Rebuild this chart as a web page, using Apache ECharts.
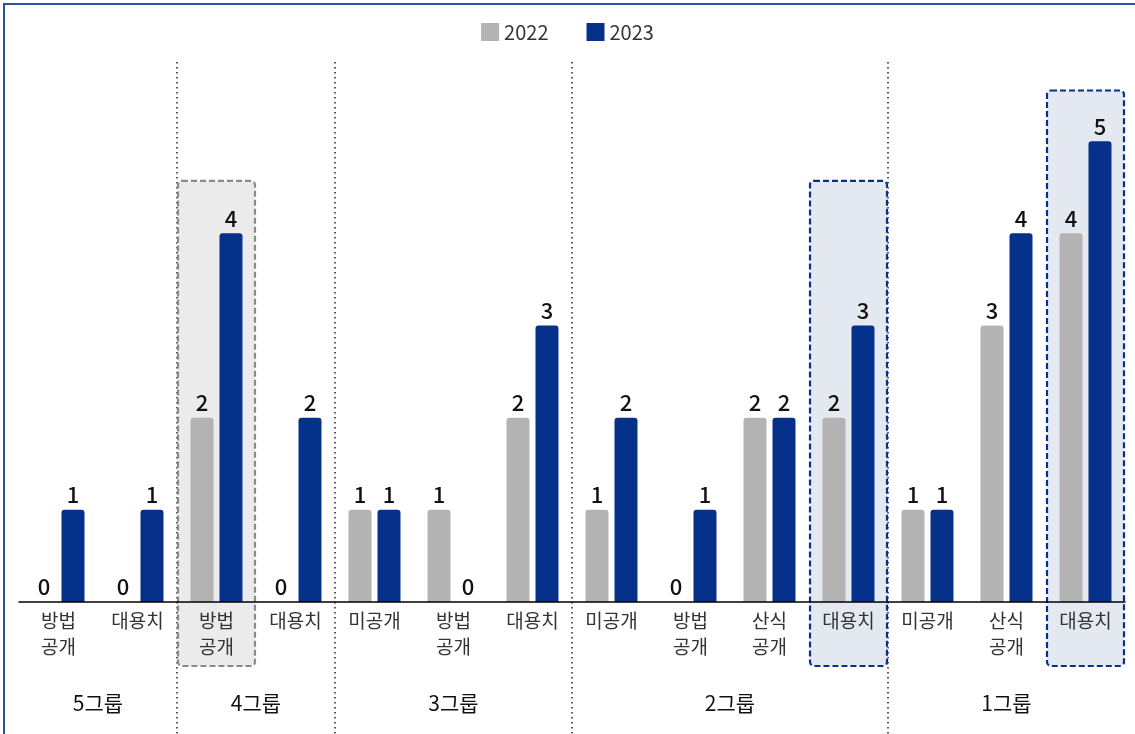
<!DOCTYPE html>
<html>
<head>
<meta charset="utf-8">
<script src="https://cdn.jsdelivr.net/npm/echarts@6/dist/echarts.min.js"></script>
<style>
html,body{margin:0;padding:0;background:#fff;}
#c{width:1135px;height:734px;}
</style>
</head>
<body>
<div id="c"></div>
<script>
const categories = ['방법\n공개','대용치','방법\n공개','대용치','미공개','방법\n공개','대용치','미공개','방법\n공개','산식\n공개','대용치','미공개','산식\n공개','대용치'];
const values2022 = [0,0,2,0,1,1,2,1,0,2,2,1,3,4];
const values2023 = [1,1,4,2,1,0,3,2,1,2,3,1,4,5];
const groupNames = ['5그룹','4그룹','3그룹','2그룹','1그룹'];
const groupSizes = [2,2,3,4,3];
const grayBox = [2];
const blueBoxes = [10,13];

const FONT = '"Noto Sans CJK KR","Noto Sans",sans-serif';
const GRAY = '#b3b3b3';
const NAVY = '#06318a';

const chart = echarts.init(document.getElementById('c'));
const labelCfg = {show:true, position:'top', distance:4, fontSize:22, fontWeight:500, color:'#111', fontFamily:FONT};
chart.setOption({
  animation:false,
  textStyle:{fontFamily:FONT},
  legend:{
    top:17, left:'center', itemWidth:18, itemHeight:18, itemGap:38,
    icon:'rect',
    textStyle:{fontSize:20, color:'#333', fontFamily:FONT},
    data:['2022','2023']
  },
  grid:{left:19, right:10, top:49, bottom:132, containLabel:false},
  xAxis:{
    type:'category', data:categories, z:6,
    axisLine:{lineStyle:{color:'#000', width:1.5}},
    axisTick:{inside:true, length:6, lineStyle:{color:'#000', width:1.5}},
    axisLabel:{fontSize:19, color:'#333', lineHeight:26, margin:6, fontFamily:FONT, interval:0}
  },
  yAxis:{type:'value', min:0, max:6, show:false},
  series:[
    {name:'2022', type:'bar', data:values2022, barWidth:23, barGap:'26%', z:3,
     itemStyle:{color:GRAY, borderRadius:[3,3,0,0]}, label:labelCfg},
    {name:'2023', type:'bar', data:values2023, barWidth:23, z:3,
     itemStyle:{color:NAVY, borderRadius:[3,3,0,0]}, label:labelCfg}
  ]
});

function drawDecor(){
  const cx = i => chart.convertToPixel({xAxisIndex:0}, i);
  const py = v => chart.convertToPixel({yAxisIndex:0}, v);
  const catW = cx(1) - cx(0);
  const base = py(0);
  const els = [];
  els.push({type:'rect', shape:{x:4, y:4, width:1300, height:900}, style:{fill:null, stroke:'#2e4fa0', lineWidth:2}, z:-5, silent:true});
  function box(idx, topY, fill, stroke){
    const x0 = cx(idx) - catW/2;
    els.push({type:'rect', shape:{x:x0+1, y:topY, width:catW-2, height:base+64-topY, r:4},
      style:{fill:fill, stroke:stroke, lineWidth:2.2, lineDash:[6,3]}, z:-3, silent:true});
  }
  grayBox.forEach(i => box(i, py(4.57), '#ebebeb', '#8a8a8a'));
  box(blueBoxes[0], py(4.57), '#e4e8f1', NAVY);
  box(blueBoxes[1], py(5.55), '#e4e8f1', NAVY);
  let start = 0;
  groupSizes.forEach((n, g) => {
    const left = cx(start) - catW/2;
    const right = cx(start + n - 1) + catW/2;
    els.push({type:'text', x:(left+right)/2, y:base+101, style:{text:groupNames[g], fontSize:21, fill:'#111', fontFamily:FONT, align:'center', verticalAlign:'middle'}, z:5, silent:true});
    if (g > 0) {
      els.push({type:'line', shape:{x1:left, y1:62, x2:left, y2:740}, style:{stroke:'#222', lineWidth:1.5, lineDash:[1.5,3.5]}, z:-4, silent:true});
    }
    start += n;
  });
  chart.setOption({graphic:{elements:els}});
}
drawDecor();
</script>
</body>
</html>
